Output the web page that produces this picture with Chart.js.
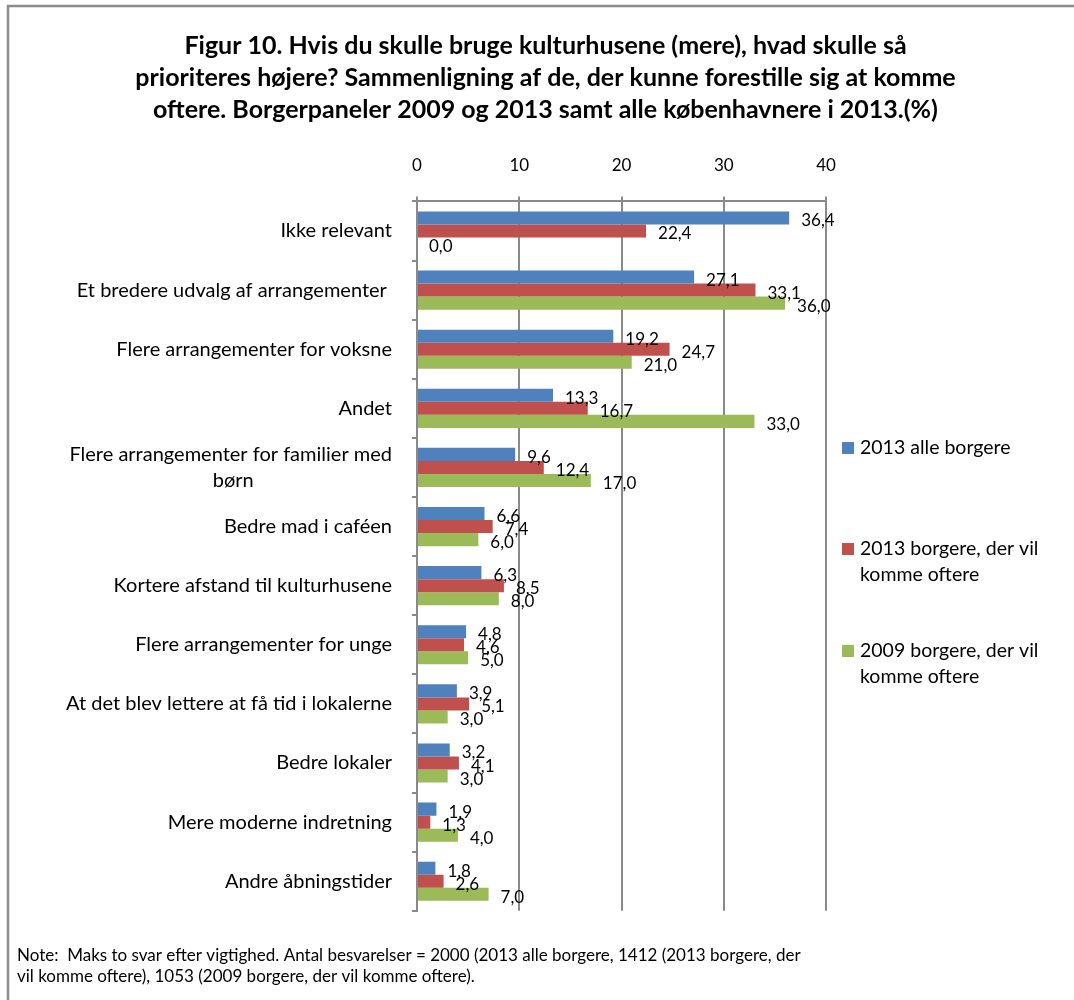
<!DOCTYPE html>
<html lang="da">
<head>
<meta charset="utf-8">
<title>Figur 10</title>
<script src="https://cdn.jsdelivr.net/npm/chart.js@4.4.1/dist/chart.umd.min.js"></script>
<style>
  html, body { margin: 0; padding: 0; background: #fff; }
  #wrap { width: 1074px; height: 1000px; }
</style>
</head>
<body>
<div id="wrap"><canvas id="chart" width="1074" height="1000"></canvas></div>
<script>
// Kategorier (top til bund)
const categories = [
  'Ikke relevant',
  'Et bredere udvalg af arrangementer ',
  'Flere arrangementer for voksne',
  'Andet',
  ['Flere arrangementer for familier med', 'børn'],
  'Bedre mad i caféen',
  'Kortere afstand til kulturhusene',
  'Flere arrangementer for unge',
  'At det blev lettere at få tid i lokalerne',
  'Bedre lokaler',
  'Mere moderne indretning',
  'Andre åbningstider',
];

const seriesNames = [
  '2013 alle borgere',
  '2013 borgere, der vil komme oftere',
  '2009 borgere, der vil komme oftere',
];

const alle2013    = [36.4, 27.1, 19.2, 13.3, 9.6, 6.6, 6.3, 4.8, 3.9, 3.2, 1.9, 1.8];
const oftere2013  = [22.4, 33.1, 24.7, 16.7, 12.4, 7.4, 8.5, 4.6, 5.1, 4.1, 1.3, 2.6];
const oftere2009  = [0.0, 36.0, 21.0, 33.0, 17.0, 6.0, 8.0, 5.0, 3.0, 3.0, 4.0, 7.0];

const xTicks = [0, 10, 20, 30, 40];

const titleLines = [
  'Figur 10. Hvis du skulle bruge kulturhusene (mere), hvad skulle så',
  'prioriteres højere? Sammenligning af de, der kunne forestille sig at komme',
  'oftere. Borgerpaneler 2009 og 2013 samt alle københavnere i 2013.(%)',
];

const noteLines = [
  'Note:  Maks to svar efter vigtighed. Antal besvarelser = 2000 (2013 alle borgere, 1412 (2013 borgere, der',
  'vil komme oftere), 1053 (2009 borgere, der vil komme oftere).',
];

const COLORS = ['#4F81BD', '#C0504D', '#9BBB59'];
const GRID = '#8a8a8a';
const FONT = 'Lato';
const CAT_SIZE = 20;
const LEGEND_SIZE = 19.5;

// Til at centrere anden linje af flerlinje-etiketter (som i Excel)
const measure = document.createElement('canvas').getContext('2d');
function centerLines(lines) {
  measure.font = `${CAT_SIZE}px ${FONT}`;
  const w = Math.max(...lines.map((l) => measure.measureText(l).width));
  const sp = measure.measureText(' ').width;
  return lines.map((l) => l + ' '.repeat(Math.max(0, Math.round((w - measure.measureText(l).width) / 2 / sp))));
}

/** Grå ramme øverst og til venstre. */
const framePlugin = {
  id: 'frame',
  beforeDraw(chart) {
    const { ctx, width, height } = chart;
    ctx.save();
    ctx.strokeStyle = '#8c8c8c';
    ctx.lineWidth = 2.5;
    ctx.beginPath();
    ctx.moveTo(width, 6);
    ctx.lineTo(8, 6);
    ctx.lineTo(8, height);
    ctx.stroke();
    ctx.restore();
  },
};

/** Værdietiketter til højre for hver bjælke, med komma som decimaltegn. */
const valueLabels = {
  id: 'valueLabels',
  afterDatasetsDraw(chart) {
    const { ctx } = chart;
    ctx.save();
    ctx.font = `17px ${FONT}`;
    ctx.fillStyle = '#000';
    ctx.textAlign = 'left';
    ctx.textBaseline = 'middle';
    chart.data.datasets.forEach((ds, di) => {
      chart.getDatasetMeta(di).data.forEach((bar, i) => {
        const txt = ds.data[i].toFixed(1).replace('.', ',');
        ctx.fillText(txt, bar.x + 12, bar.y + 3);
      });
    });
    ctx.restore();
  },
};

/** Legende som egen layoutboks til højre, med ombrudt tekst. */
const sideLegend = {
  id: 'sideLegend',
  beforeInit(chart) {
    const box = {
      position: 'right',
      weight: 100,
      fullSize: false,
      options: {},
      isHorizontal: () => false,
      update(maxW, maxH) { this.width = 248; this.height = maxH; },
      draw() {
        const { ctx } = chart;
        const rows = [448, 549, 651];
        ctx.save();
        ctx.font = `${LEGEND_SIZE}px ${FONT}`;
        ctx.textBaseline = 'middle';
        ctx.textAlign = 'left';
        chart.data.datasets.forEach((ds, i) => {
          const y = rows[i];
          ctx.fillStyle = ds.backgroundColor;
          ctx.fillRect(this.left + 16, y - 6, 12, 12);
          ctx.fillStyle = '#000';
          // Simpel ordombrydning
          const words = ds.label.split(' ');
          const lines = [];
          let cur = '';
          words.forEach((w) => {
            const test = cur ? cur + ' ' + w : w;
            if (ctx.measureText(test).width > 200 && cur) { lines.push(cur); cur = w; }
            else cur = test;
          });
          lines.push(cur);
          lines.forEach((l, k) => ctx.fillText(l, this.left + 34, y + k * 26));
        });
        ctx.restore();
      },
    };
    Chart.layouts.addBox(chart, box);
  },
};

new Chart(document.getElementById('chart'), {
  type: 'bar',
  data: {
    labels: categories,
    datasets: [
      { label: seriesNames[0], data: alle2013,   backgroundColor: COLORS[0] },
      { label: seriesNames[1], data: oftere2013, backgroundColor: COLORS[1] },
      { label: seriesNames[2], data: oftere2009, backgroundColor: COLORS[2] },
    ],
  },
  options: {
    indexAxis: 'y',
    responsive: false,
    animation: false,
    datasets: {
      bar: { categoryPercentage: 0.662, barPercentage: 1.0 },
    },
    layout: { padding: { left: 17, right: 0, top: 0, bottom: 0 } },
    plugins: {
      legend: { display: false },
      tooltip: { enabled: false },
      title: {
        display: true,
        text: titleLines,
        color: '#000',
        font: { family: FONT, size: 25, weight: 'bold', lineHeight: 1.28 },
        padding: { top: 30, bottom: 8 },
      },
      subtitle: {
        display: true,
        position: 'bottom',
        align: 'start',
        text: noteLines,
        color: '#000',
        font: { family: FONT, size: 17, lineHeight: 1.24 },
        padding: { top: 34, bottom: 13 },
      },
    },
    scales: {
      x: {
        position: 'top',
        min: 0,
        max: 40,
        afterBuildTicks: (scale) => { scale.ticks = xTicks.map((v) => ({ value: v })); },
        ticks: {
          color: '#000',
          font: { family: FONT, size: 17 },
          padding: 21,
        },
        grid: { color: GRID, lineWidth: 2, tickLength: 5, tickColor: GRID },
        border: { display: true, color: GRID, width: 2 },
      },
      y: {
        afterFit: (scale) => { scale.width = 400; },
        ticks: {
          color: '#000',
          font: { family: FONT, size: CAT_SIZE, lineHeight: 1.3 },
          padding: 20,
          autoSkip: false,
          callback(value) {
            const lbl = this.getLabelForValue(value);
            return Array.isArray(lbl) ? centerLines(lbl) : lbl;
          },
        },
        grid: { drawOnChartArea: false, drawTicks: true, tickLength: 5, tickColor: GRID, lineWidth: 2, offset: true },
        border: { display: true, color: GRID, width: 2 },
      },
    },
  },
  plugins: [framePlugin, valueLabels, sideLegend],
});
</script>
</body>
</html>
